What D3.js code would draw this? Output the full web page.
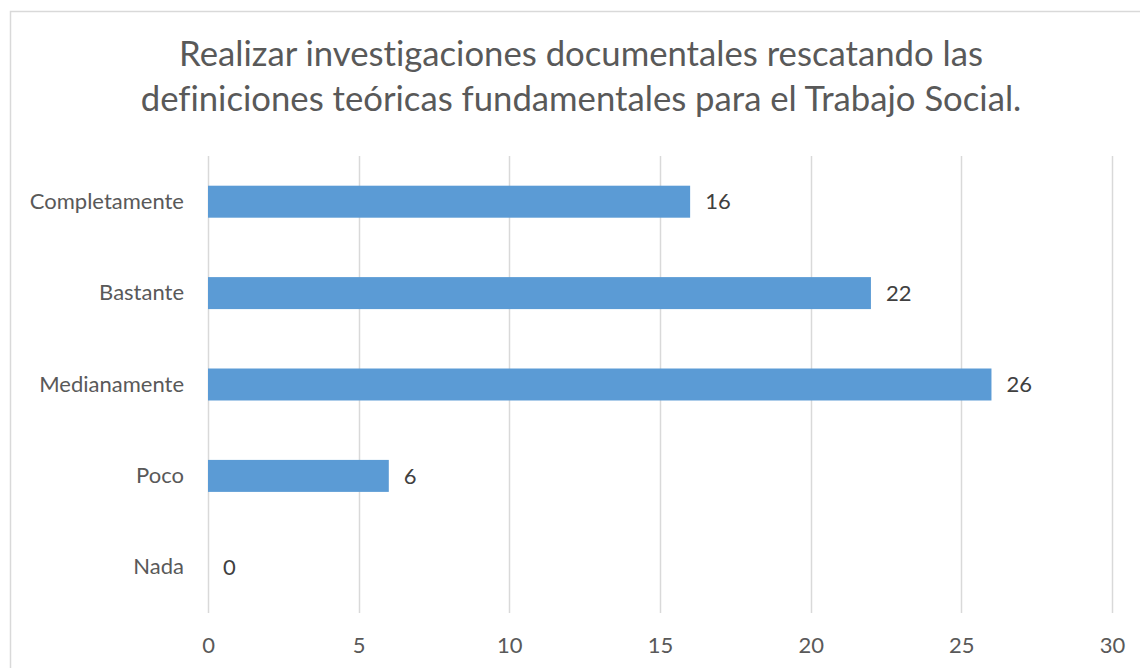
<!DOCTYPE html>
<html>
<head>
    <meta charset="utf-8">
    <script src="https://d3js.org/d3.v7.min.js"></script>
    <style>
        body {
            margin: 0;
            background: #ffffff;
        }
        text {
            font-family: Lato, "Open Sans", sans-serif;
            font-variant-ligatures: none;
        }
    </style>
</head>
<body>
<div id="chartContainer"></div>
<script type="text/javascript">
    //data
    var categories = ["Completamente", "Bastante", "Medianamente", "Poco", "Nada"];
    var values = [16, 22, 26, 6, 0];
    var xTicks = [0, 5, 10, 15, 20, 25, 30];
    var titleLines = ["Realizar investigaciones documentales rescatando las",
        "definiciones teóricas fundamentales para el Trabajo Social."];

    var width = 1140,
        height = 668;

    var svg = d3.select("#chartContainer")
        .append("svg")
        .attr("width", width)
        .attr("height", height);

    //outer chart border (right and bottom edges fall off the picture)
    svg.append("rect")
        .attr("x", 10.5)
        .attr("y", 11.5)
        .attr("width", width)
        .attr("height", height)
        .attr("fill", "#ffffff")
        .attr("stroke", "#d9d9d9")
        .attr("stroke-width", 1.5);

    //title
    svg.selectAll("text.title")
        .data(titleLines)
        .enter()
        .append("text")
        .attr("class", "title")
        .attr("x", 581)
        .attr("y", function (d, i) { return 66 + i * 45; })
        .attr("text-anchor", "middle")
        .style("font-size", "34.7px")
        .style("fill", "#595959")
        .text(function (d) { return d; });

    //scales
    var x = d3.scaleLinear()
        .domain([0, 30])
        .range([208, 1112]);

    var y = d3.scaleBand()
        .domain(categories)
        .range([156, 613])
        .paddingInner(0.65)
        .paddingOuter(0.325);

    //vertical gridlines
    svg.selectAll("line.grid")
        .data(xTicks)
        .enter()
        .append("line")
        .attr("class", "grid")
        .attr("x1", function (d) { return Math.round(x(d)) + 0.5; })
        .attr("x2", function (d) { return Math.round(x(d)) + 0.5; })
        .attr("y1", 156)
        .attr("y2", 613)
        .attr("stroke", "#d9d9d9")
        .attr("stroke-width", 1.5);

    //x axis labels, no axis line
    var xAxis = d3.axisBottom(x)
        .tickValues(xTicks)
        .tickSize(0)
        .tickPadding(0);

    var xg = svg.append("g")
        .attr("transform", "translate(0,637)")
        .call(xAxis);
    xg.select(".domain").remove();
    xg.selectAll("text")
        .attr("dy", "0.71em")
        .style("font-size", "22px")
        .style("font-family", "Lato, sans-serif")
        .style("fill", "#595959");

    //category labels
    var yAxis = d3.axisLeft(y)
        .tickSize(0)
        .tickPadding(24);

    var yg = svg.append("g")
        .attr("transform", "translate(208,0)")
        .call(yAxis);
    yg.select(".domain").remove();
    yg.selectAll("text")
        .style("font-size", "22px")
        .style("font-family", "Lato, sans-serif")
        .style("fill", "#595959");

    //bars
    svg.selectAll("rect.bar")
        .data(values)
        .enter()
        .append("rect")
        .attr("class", "bar")
        .attr("x", x(0))
        .attr("y", function (d, i) { return y(categories[i]); })
        .attr("width", function (d) { return x(d) - x(0); })
        .attr("height", y.bandwidth())
        .attr("fill", "#5b9bd5");

    //data labels
    svg.selectAll("text.value")
        .data(values)
        .enter()
        .append("text")
        .attr("class", "value")
        .attr("x", function (d) { return x(d) + 15; })
        .attr("y", function (d, i) { return y(categories[i]) + y.bandwidth() / 2; })
        .attr("dy", "0.35em")
        .style("font-size", "22px")
        .style("fill", "#404040")
        .text(function (d) { return d; });
</script>
</body>
</html>
